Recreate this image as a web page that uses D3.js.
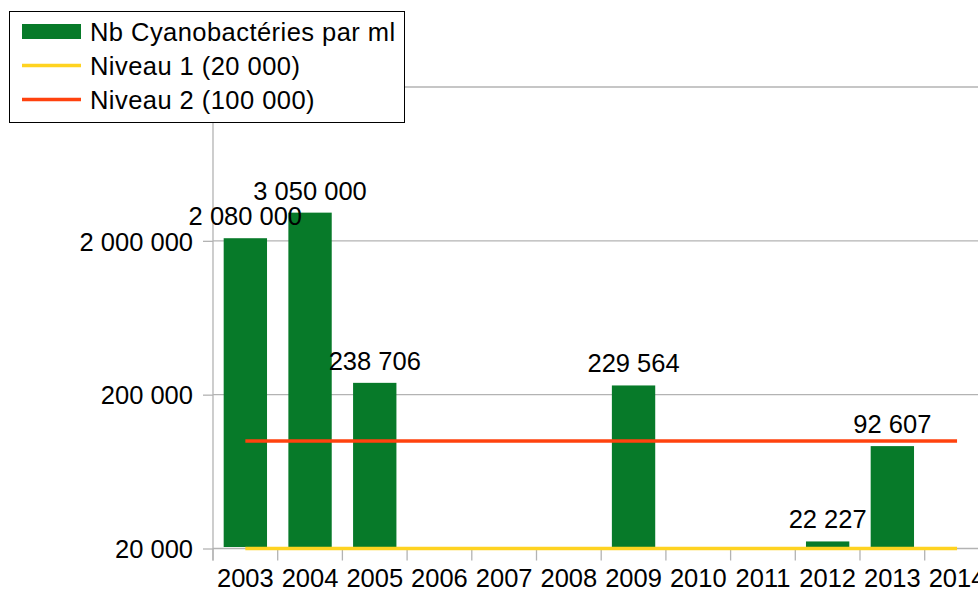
<!DOCTYPE html>
<html>
<head>
<meta charset="utf-8">
<script src="https://cdn.jsdelivr.net/npm/d3@7"></script>
<style>
  html, body { margin: 0; padding: 0; background: #fff; }
  svg { display: block; font-family: "Liberation Sans", Arial, sans-serif; }
</style>
</head>
<body>
<svg id="chart" width="978" height="592"></svg>
<script>
const years = ["2003","2004","2005","2006","2007","2008","2009","2010","2011","2012","2013","2014"];
const counts = [2080000, 3050000, 238706, null, null, null, 229564, null, null, 22227, 92607, null];
const countLabels = ["2 080 000","3 050 000","238 706","","","","229 564","","","22 227","92 607",""];
const niveau1 = [20000,20000,20000,20000,20000,20000,20000,20000,20000,20000,20000,20000];
const niveau2 = [100000,100000,100000,100000,100000,100000,100000,100000,100000,100000,100000,100000];
const yTickValues = [20000, 200000, 2000000];
const yTickLabels = ["20 000", "200 000", "2 000 000"];
const yGridValues = [20000, 200000, 2000000, 20000000];
const seriesNames = ["Nb Cyanobactéries par ml", "Niveau 1 (20 000)", "Niveau 2 (100 000)"];

const colors = { bar: "#077a29", n1: "#ffd320", n2: "#ff420e", grid: "#b3b3b3" };
const fontSize = 25.5;

const svg = d3.select("#chart");
const plotLeft = 213, plotRight = 213 + 12 * 64.7;
const plotBottom = 548.5, plotTop = 87;

const x = d3.scaleBand().domain(years).range([plotLeft, plotRight]).paddingInner(0.33).paddingOuter(0.165);
const step = x.step();
const y = d3.scaleLog().domain([20000, 20000000]).range([plotBottom, plotTop]);

// gridlines
svg.append("g").selectAll("line").data(yGridValues).join("line")
  .attr("x1", plotLeft).attr("x2", 978)
  .attr("y1", d => y(d)).attr("y2", d => y(d))
  .attr("stroke", colors.grid).attr("stroke-width", 1.3);

// y axis
const yAxis = svg.append("g").attr("transform", `translate(${plotLeft},0)`)
  .call(d3.axisLeft(y).tickValues(yTickValues).tickFormat((d, i) => yTickLabels[i]).tickSize(10).tickPadding(10));
yAxis.select(".domain").remove();
yAxis.selectAll(".tick line").attr("stroke", colors.grid).attr("stroke-width", 1.3);
yAxis.selectAll("text").attr("font-size", fontSize).attr("fill", "#000")
  .attr("font-family", "Liberation Sans, Arial, sans-serif").attr("dy", "0.36em");
svg.append("line").attr("x1", plotLeft).attr("x2", plotLeft).attr("y1", plotTop).attr("y2", plotBottom + 12)
  .attr("stroke", colors.grid).attr("stroke-width", 1.3);

// x axis: ticks at band boundaries
const xAxisG = svg.append("g");
xAxisG.selectAll("line").data(years.concat(["end"])).join("line")
  .attr("x1", (d, i) => plotLeft + i * step).attr("x2", (d, i) => plotLeft + i * step)
  .attr("y1", plotBottom).attr("y2", plotBottom + 12)
  .attr("stroke", colors.grid).attr("stroke-width", 1.3);
xAxisG.selectAll("text").data(years).join("text")
  .attr("x", d => x(d) + x.bandwidth() / 2).attr("y", 587)
  .attr("text-anchor", "middle").attr("font-size", fontSize).attr("fill", "#000")
  .text(d => d);

// bars
const barData = years.map((yr, i) => ({ yr, v: counts[i], label: countLabels[i] })).filter(d => d.v != null);
svg.append("g").selectAll("rect").data(barData).join("rect")
  .attr("x", d => x(d.yr)).attr("width", x.bandwidth())
  .attr("y", d => y(d.v)).attr("height", d => plotBottom - 1.5 - y(d.v))
  .attr("fill", colors.bar);

// lines
const cx = d => x(d) + x.bandwidth() / 2;
const line = d3.line().x(d => cx(d.yr)).y(d => y(d.v));
svg.append("path").datum(years.map((yr, i) => ({ yr, v: niveau1[i] })))
  .attr("d", line).attr("fill", "none").attr("stroke", colors.n1).attr("stroke-width", 3.5);
svg.append("path").datum(years.map((yr, i) => ({ yr, v: niveau2[i] })))
  .attr("d", line).attr("fill", "none").attr("stroke", colors.n2).attr("stroke-width", 3.5);

// data labels
svg.append("g").selectAll("text").data(barData).join("text")
  .attr("x", d => cx(d.yr)).attr("y", d => y(d.v) - 13)
  .attr("text-anchor", "middle").attr("font-size", fontSize).attr("fill", "#000")
  .text(d => d.label);

// legend
const lg = svg.append("g");
lg.append("rect").attr("x", 9.5).attr("y", 11.5).attr("width", 395).attr("height", 111)
  .attr("fill", "#fff").attr("stroke", "#000").attr("stroke-width", 1);
[0, 1, 2].forEach(i => {
  const cy = 31.5 + i * 34;
  if (i === 0) {
    lg.append("rect").attr("x", 22).attr("y", cy - 7.5).attr("width", 59).attr("height", 15).attr("fill", colors.bar);
  } else {
    lg.append("line").attr("x1", 22).attr("x2", 81).attr("y1", cy).attr("y2", cy)
      .attr("stroke", i === 1 ? colors.n1 : colors.n2).attr("stroke-width", 3.5);
  }
  lg.append("text").attr("x", 90).attr("y", cy + 9).attr("font-size", fontSize).attr("fill", "#000")
    .attr("letter-spacing", "0.45px")
    .text(seriesNames[i]);
});
</script>
</body>
</html>
